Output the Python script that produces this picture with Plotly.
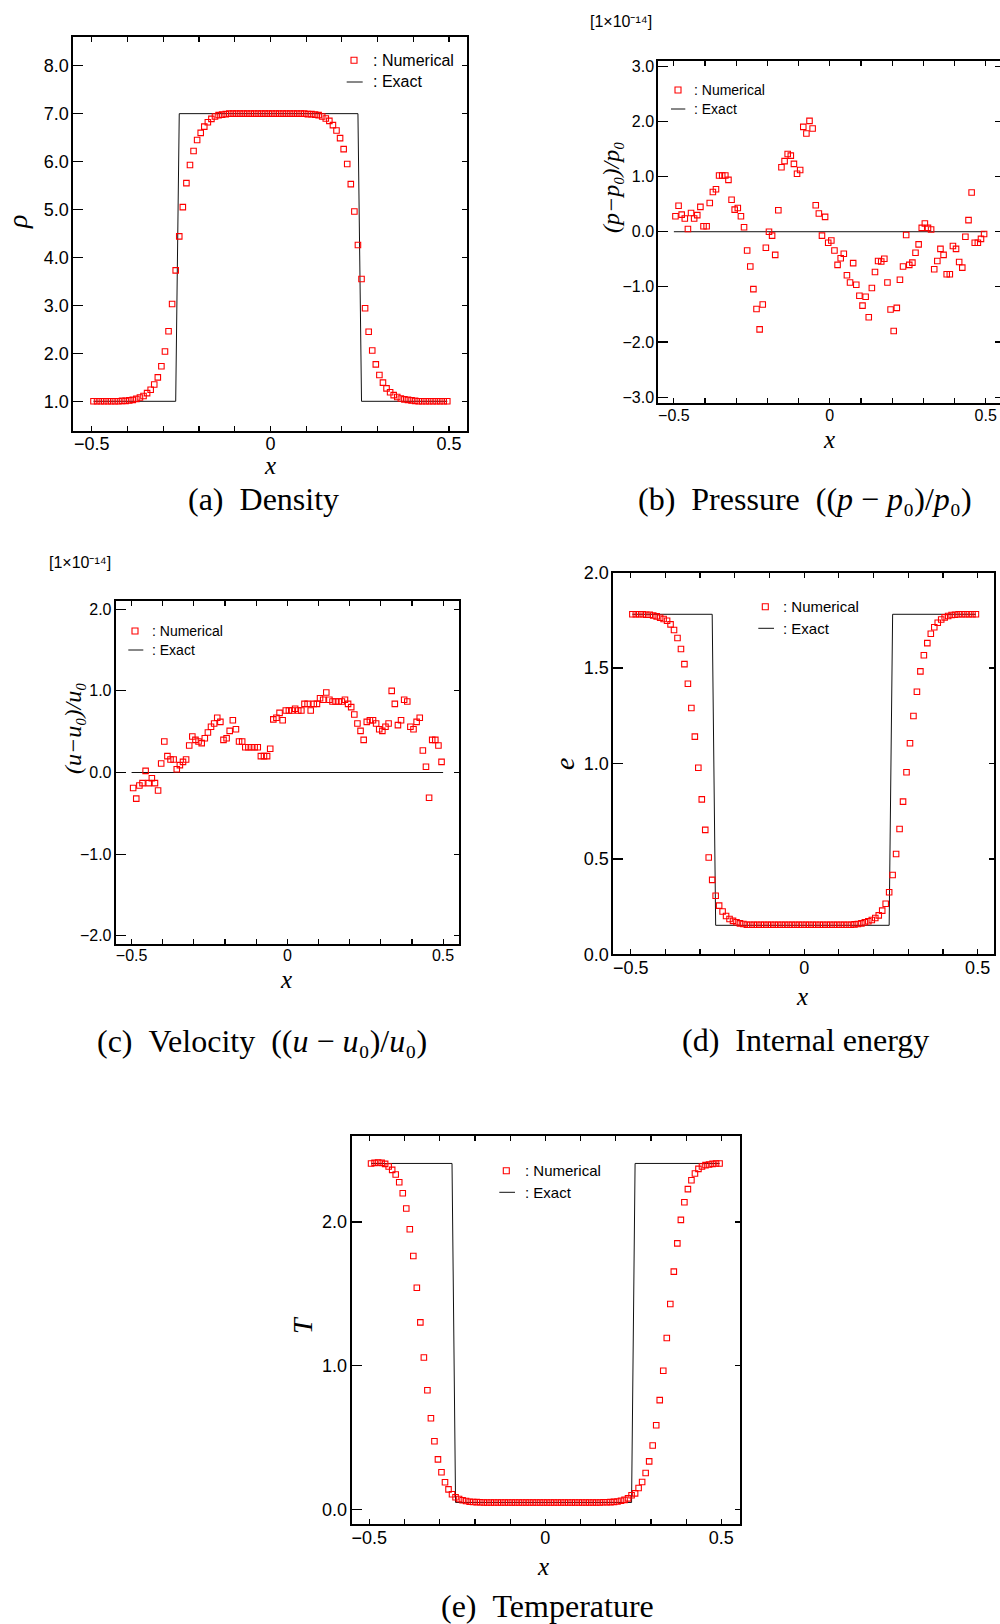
import plotly.graph_objects as go

# ---------------- data ----------------
x_cells = [
    -0.495, -0.485, -0.475, -0.465, -0.455, -0.445, -0.435, -0.425, -0.415, -0.405,
    -0.395, -0.385, -0.375, -0.365, -0.355, -0.345, -0.335, -0.325, -0.315, -0.305,
    -0.295, -0.285, -0.275, -0.265, -0.255, -0.245, -0.235, -0.225, -0.215, -0.205,
    -0.195, -0.185, -0.175, -0.165, -0.155, -0.145, -0.135, -0.125, -0.115, -0.105,
    -0.095, -0.085, -0.075, -0.065, -0.055, -0.045, -0.035, -0.025, -0.015, -0.005,
    0.005, 0.015, 0.025, 0.035, 0.045, 0.055, 0.065, 0.075, 0.085, 0.095,
    0.105, 0.115, 0.125, 0.135, 0.145, 0.155, 0.165, 0.175, 0.185, 0.195,
    0.205, 0.215, 0.225, 0.235, 0.245, 0.255, 0.265, 0.275, 0.285, 0.295,
    0.305, 0.315, 0.325, 0.335, 0.345, 0.355, 0.365, 0.375, 0.385, 0.395,
    0.405, 0.415, 0.425, 0.435, 0.445, 0.455, 0.465, 0.475, 0.485, 0.495,
]

rho_num = [
    1.00, 1.00, 1.00, 1.00, 1.00, 1.00, 1.00, 1.00, 1.01, 1.01,
    1.02, 1.03, 1.05, 1.08, 1.11, 1.17, 1.24, 1.35, 1.50, 1.73,
    2.04, 2.46, 3.03, 3.73, 4.44, 5.05, 5.55, 5.93, 6.22, 6.45,
    6.60, 6.73, 6.82, 6.89, 6.94, 6.97, 6.98, 6.99, 7.00, 7.00,
    7.00, 7.00, 7.00, 7.00, 7.00, 7.00, 7.00, 7.00, 7.00, 7.00,
    7.00, 7.00, 7.00, 7.00, 7.00, 7.00, 7.00, 7.00, 7.00, 7.00,
    6.99, 6.99, 6.98, 6.97, 6.94, 6.90, 6.85, 6.76, 6.65, 6.49,
    6.26, 5.95, 5.53, 4.96, 4.26, 3.55, 2.94, 2.45, 2.06, 1.77,
    1.55, 1.39, 1.27, 1.19, 1.13, 1.09, 1.06, 1.04, 1.03, 1.02,
    1.01, 1.00, 1.00, 1.00, 1.00, 1.00, 1.00, 1.00, 1.00, 1.00,
]

p_num = [  # (p - p0)/p0 in units of 1e-14
    0.28, 0.47, 0.31, 0.24, 0.05, 0.34, 0.24, 0.30, 0.45, 0.10,
    0.10, 0.52, 0.72, 0.77, 1.02, 1.02, 1.02, 0.94, 0.58, 0.40,
    0.43, 0.28, 0.08, -0.34, -0.63, -1.04, -1.40, -1.77, -1.32, -0.29,
    0.00, -0.07, -0.42, 0.39, 1.17, 1.28, 1.41, 1.38, 1.23, 1.05,
    1.12, 1.90, 1.78, 2.01, 1.87, 0.48, 0.33, -0.07, 0.27, -0.20,
    -0.16, -0.34, -0.60, -0.48, -0.40, -0.79, -0.92, -0.57, -0.96, -1.16,
    -1.34, -1.18, -1.55, -1.02, -0.73, -0.53, -0.54, -0.49, -0.92, -1.41,
    -1.80, -1.38, -0.87, -0.63, -0.06, -0.60, -0.56, -0.38, -0.23, 0.07,
    0.15, 0.07, 0.04, -0.68, -0.53, -0.31, -0.42, -0.77, -0.77, -0.26,
    -0.31, -0.55, -0.65, -0.09, 0.21, 0.71, -0.20, -0.20, -0.13, -0.04,
]

u_num = [  # (u - u0)/u0 in units of 1e-14
    -0.19, -0.32, -0.16, -0.13, 0.02, -0.13, -0.07, -0.13, -0.22, 0.11,
    0.38, 0.20, 0.16, 0.16, 0.04, 0.09, 0.13, 0.16, 0.33, 0.44,
    0.40, 0.38, 0.36, 0.42, 0.49, 0.56, 0.60, 0.67, 0.62, 0.40,
    0.42, 0.51, 0.64, 0.53, 0.38, 0.38, 0.31, 0.31, 0.31, 0.31,
    0.31, 0.20, 0.20, 0.20, 0.29, 0.65, 0.67, 0.73, 0.64, 0.76,
    0.76, 0.76, 0.78, 0.76, 0.76, 0.84, 0.84, 0.76, 0.84, 0.84,
    0.91, 0.89, 0.98, 0.89, 0.87, 0.87, 0.87, 0.87, 0.89, 0.84,
    0.80, 0.71, 0.60, 0.51, 0.40, 0.62, 0.64, 0.64, 0.60, 0.53,
    0.51, 0.56, 0.60, 1.00, 0.84, 0.58, 0.64, 0.89, 0.87, 0.56,
    0.53, 0.62, 0.67, 0.27, 0.07, -0.31, 0.40, 0.40, 0.33, 0.13,
]

e_num = [
    1.782, 1.782, 1.782, 1.782, 1.780, 1.780, 1.776, 1.771, 1.764, 1.757,
    1.748, 1.729, 1.700, 1.658, 1.600, 1.521, 1.418, 1.291, 1.141, 0.978,
    0.812, 0.652, 0.507, 0.390, 0.307, 0.255, 0.224, 0.201, 0.185, 0.175,
    0.168, 0.162, 0.159, 0.155, 0.155, 0.155, 0.155, 0.155, 0.155, 0.155,
    0.155, 0.155, 0.155, 0.155, 0.155, 0.155, 0.155, 0.155, 0.155, 0.155,
    0.155, 0.155, 0.155, 0.155, 0.155, 0.155, 0.155, 0.155, 0.155, 0.155,
    0.155, 0.155, 0.155, 0.155, 0.157, 0.159, 0.162, 0.168, 0.173, 0.180,
    0.190, 0.204, 0.229, 0.265, 0.325, 0.416, 0.526, 0.657, 0.800, 0.954,
    1.106, 1.249, 1.376, 1.483, 1.567, 1.631, 1.680, 1.714, 1.738, 1.755,
    1.766, 1.773, 1.778, 1.780, 1.782, 1.782, 1.782, 1.782, 1.782, 1.782,
]

T_num = [
    2.407, 2.411, 2.413, 2.411, 2.404, 2.386, 2.362, 2.330, 2.276, 2.200,
    2.093, 1.949, 1.763, 1.542, 1.301, 1.057, 0.829, 0.634, 0.474, 0.348,
    0.258, 0.188, 0.139, 0.105, 0.084, 0.072, 0.063, 0.058, 0.053, 0.051,
    0.050, 0.049, 0.048, 0.048, 0.048, 0.048, 0.048, 0.048, 0.048, 0.048,
    0.048, 0.048, 0.048, 0.048, 0.048, 0.048, 0.048, 0.048, 0.048, 0.048,
    0.048, 0.048, 0.048, 0.048, 0.048, 0.048, 0.048, 0.048, 0.048, 0.048,
    0.048, 0.048, 0.048, 0.048, 0.048, 0.048, 0.049, 0.049, 0.050, 0.052,
    0.055, 0.060, 0.066, 0.076, 0.098, 0.111, 0.149, 0.190, 0.253, 0.334,
    0.444, 0.585, 0.760, 0.964, 1.192, 1.429, 1.654, 1.851, 2.014, 2.137,
    2.228, 2.290, 2.337, 2.369, 2.386, 2.395, 2.400, 2.404, 2.407, 2.407,
]

# exact solutions
step_x = [-0.495, -0.265, -0.255, 0.245, 0.255, 0.495]
rho_exact = [1.0, 1.0, 7.0, 7.0, 1.0, 1.0]
e_exact = [1.782, 1.782, 0.152, 0.152, 1.782, 1.782]
T_exact = [2.407, 2.407, 0.048, 0.048, 2.407, 2.407]
zero_x = [-0.5, 0.5]
p_exact = [0.0, 0.0]
u_exact = [0.0, 0.0]

# tick labels
x_tickvals = [-0.5, 0.0, 0.5]
x_ticktext = ["\u22120.5", "0", "0.5"]
x_minor_tickvals = [-0.4, -0.3, -0.2, -0.1, 0.1, 0.2, 0.3, 0.4]
rho_tickvals = [1, 2, 3, 4, 5, 6, 7, 8]
rho_ticktext = ["1.0", "2.0", "3.0", "4.0", "5.0", "6.0", "7.0", "8.0"]
p_tickvals = [-3, -2, -1, 0, 1, 2, 3]
p_ticktext = ["\u22123.0", "\u22122.0", "\u22121.0", "0.0", "1.0", "2.0", "3.0"]
u_tickvals = [-2, -1, 0, 1, 2]
u_ticktext = ["\u22122.0", "\u22121.0", "0.0", "1.0", "2.0"]
e_tickvals = [0.0, 0.5, 1.0, 1.5, 2.0]
e_ticktext = ["0.0", "0.5", "1.0", "1.5", "2.0"]
T_tickvals = [0, 1, 2]
T_ticktext = ["0.0", "1.0", "2.0"]

# ---------------- layout helpers ----------------
W, H = 1000, 1624
SANS = "Liberation Sans, Arial, Helvetica, sans-serif"
SERIF = "Liberation Serif, DejaVu Serif, Times New Roman, serif"


def fx(px):
    return px / W


def fy(py):
    return 1 - py / H


panels = [
    dict(xn=x_cells, yn=rho_num, xe=step_x, ye=rho_exact, box=(73.3, 467.3, 36.7, 430.7),
         xr=[-0.5515, 0.551], yr=[0.387, 8.605], yt=rho_tickvals, ytt=rho_ticktext, fs=18),
    dict(xn=x_cells, yn=p_num, xe=zero_x, ye=p_exact, box=(658.3, 1000.0, 60.7, 403.3),
         xr=[-0.550, 0.546], yr=[-3.11, 3.10], yt=p_tickvals, ytt=p_ticktext, fs=16),
    dict(xn=x_cells, yn=u_num, xe=zero_x, ye=u_exact, box=(115.7, 459.3, 601.0, 944.0),
         xr=[-0.551, 0.552], yr=[-2.10, 2.10], yt=u_tickvals, ytt=u_ticktext, fs=16),
    dict(xn=x_cells, yn=e_num, xe=step_x, ye=e_exact, box=(613.3, 994.3, 572.7, 954.3),
         xr=[-0.550, 0.548], yr=[0.0, 2.0], yt=e_tickvals, ytt=e_ticktext, fs=18),
    dict(xn=x_cells, yn=T_num, xe=step_x, ye=T_exact, box=(351.7, 740.0, 1135.7, 1524.0),
         xr=[-0.550, 0.553], yr=[-0.102, 2.60], yt=T_tickvals, ytt=T_ticktext, fs=18),
]

fig = go.Figure()
layout = dict(
    width=W, height=H,
    margin=dict(l=0, r=0, t=0, b=0, pad=0, autoexpand=False),
    paper_bgcolor="white", plot_bgcolor="white",
    showlegend=False,
    font=dict(family=SANS, color="black"),
)

for k, p in enumerate(panels, start=1):
    xa = "x" if k == 1 else f"x{k}"
    ya = "y" if k == 1 else f"y{k}"
    yo = f"y{k + 5}"
    x0, x1, y0, y1 = p["box"]
    fig.add_trace(go.Scatter(x=p["xe"], y=p["ye"], mode="lines",
                             line=dict(color="#111111", width=1),
                             xaxis=xa, yaxis=ya, name="Exact", hoverinfo="skip"))
    fig.add_trace(go.Scatter(x=p["xn"], y=p["yn"], mode="markers",
                             marker=dict(symbol="square-open", size=5.5, color="#ff0000",
                                         line=dict(width=1.1, color="#ff0000")),
                             xaxis=xa, yaxis=ya, name="Numerical"))
    # helper trace so the right-hand tick axis is drawn
    fig.add_trace(go.Scatter(x=[], y=[], xaxis=xa, yaxis=yo, showlegend=False, hoverinfo="skip"))
    tf = dict(family=SANS, size=p["fs"], color="black")
    layout[f"xaxis{'' if k == 1 else k}"] = dict(
        domain=[fx(x0), fx(x1)], range=p["xr"], anchor=ya,
        tickmode="array", tickvals=x_tickvals, ticktext=x_ticktext,
        ticks="inside", ticklen=5, tickwidth=1.2, tickcolor="black",
        ticklabelstandoff=-4,
        minor=dict(tickmode="array", tickvals=x_minor_tickvals, ticks="inside",
                   ticklen=5, tickwidth=1.2, tickcolor="black", showgrid=False),
        showline=True, linewidth=2, linecolor="black", mirror="ticks",
        showgrid=False, zeroline=False, tickfont=tf, fixedrange=True,
    )
    layout[f"yaxis{'' if k == 1 else k}"] = dict(
        domain=[fy(y1), fy(y0)], range=p["yr"], anchor=xa,
        tickmode="array", tickvals=p["yt"], ticktext=p["ytt"],
        ticks="inside", ticklen=10, tickwidth=1.2, tickcolor="black",
        ticklabelstandoff=-1,
        showline=True, linewidth=2, linecolor="black", mirror=True,
        showgrid=False, zeroline=False, tickfont=tf, fixedrange=True,
    )
    layout[f"yaxis{k + 5}"] = dict(
        overlaying=ya, side="right", anchor=xa, range=p["yr"],
        tickmode="array", tickvals=p["yt"],
        ticks="inside", ticklen=5, tickwidth=1.2, tickcolor="black",
        showticklabels=False, showline=False, showgrid=False, zeroline=False, fixedrange=True,
    )

fig.update_layout(**layout)

ann = []
shapes = []


def text(x, y, s, size, family=SERIF, angle=0, xanchor="center", yanchor="middle"):
    ann.append(dict(x=fx(x), y=fy(y), xref="paper", yref="paper", text=s, showarrow=False,
                    font=dict(family=family, size=size, color="black"),
                    textangle=angle, xanchor=xanchor, yanchor=yanchor))


SUB0 = "\u2080"
# captions
text(263, 499, "(a)\u2002Density", 32)
text(805, 499, "(b)\u2002Pressure\u2002((<i>p</i> \u2212 <i>p</i>" + SUB0 + ")/<i>p</i>" + SUB0 + ")", 32)
text(262, 1041, "(c)\u2002Velocity\u2002((<i>u</i> \u2212 <i>u</i>" + SUB0 + ")/<i>u</i>" + SUB0 + ")", 32)
text(805, 1040, "(d)\u2002Internal energy", 32)
text(547, 1606, "(e)\u2002Temperature", 32)

# x titles
for (cx, cy) in [(270, 465), (829, 439), (286, 979), (802, 996), (543, 1566)]:
    text(cx, cy, "<i>x</i>", 25)

# y titles
text(17, 222, "<i>\u03c1</i>", 28, angle=-90)
text(611, 187, "<i>(p\u2212p" + SUB0 + ")/p" + SUB0 + "</i>", 24, angle=-90)
text(73, 728, "<i>(u\u2212u" + SUB0 + ")/u" + SUB0 + "</i>", 24, angle=-90)
text(564, 764, "<i>e</i>", 28, angle=-90)
text(302, 1325, "<i>T</i>", 28, angle=-90)

# scale factors
text(621, 21, "[1\u00d710\u207b\u00b9\u2074]", 16, family=SANS)
text(80, 562, "[1\u00d710\u207b\u00b9\u2074]", 16, family=SANS)

# legends: (square centre x, y_num, line x0, line x1, y_exact, colon x, font size)
legends = [
    (354.0, 60.3, 346.7, 362.7, 82.0, 370.5, 16),
    (678.0, 90.0, 671.0, 685.3, 109.0, 692.0, 14),
    (135.0, 631.0, 128.3, 143.3, 650.0, 149.5, 14),
    (765.3, 606.7, 758.3, 774.0, 628.3, 781.0, 15),
    (506.3, 1170.7, 499.3, 515.0, 1192.3, 522.5, 15),
]
for (sx, sy, lx0, lx1, ly, cx, fs) in legends:
    shapes.append(dict(type="rect", xref="paper", yref="paper",
                       x0=fx(sx - 3), x1=fx(sx + 3), y0=fy(sy + 3), y1=fy(sy - 3),
                       line=dict(color="#ff0000", width=1.1), fillcolor="rgba(0,0,0,0)"))
    shapes.append(dict(type="line", xref="paper", yref="paper",
                       x0=fx(lx0), x1=fx(lx1), y0=fy(ly), y1=fy(ly),
                       line=dict(color="#111111", width=1)))
    text(cx, sy, ":\u00a0Numerical", fs, family=SANS, xanchor="left")
    text(cx, ly, ":\u00a0Exact", fs, family=SANS, xanchor="left")

fig.update_layout(annotations=ann, shapes=shapes)
fig.write_html("out.html", include_plotlyjs=True, full_html=True,
               config=dict(displayModeBar=False, staticPlot=True))
